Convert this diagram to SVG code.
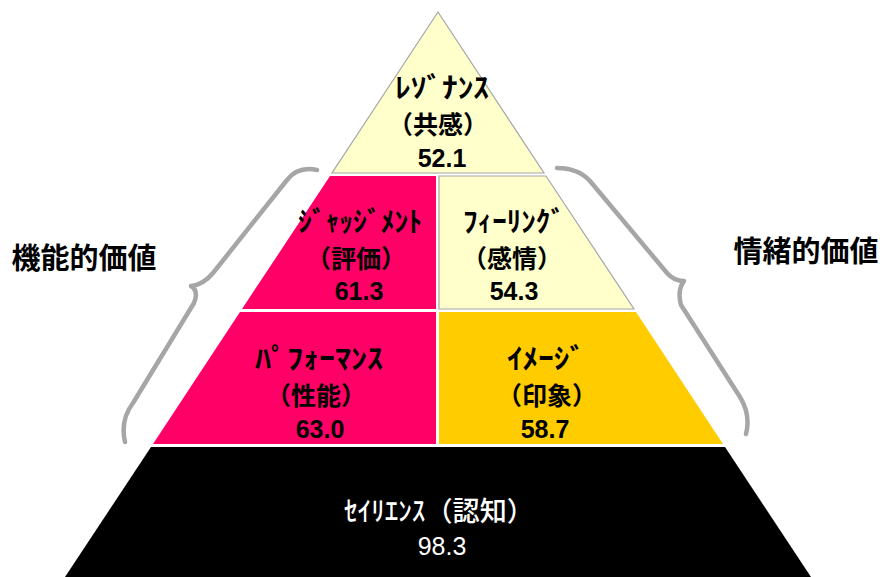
<svg xmlns="http://www.w3.org/2000/svg" width="880" height="577" viewBox="0 0 880 577">
<style>
.t{font-family:"Noto Sans CJK JP","Noto Sans",sans-serif;font-weight:bold;fill:#000;text-anchor:middle}
.kana{font-size:28px}
.k{font-size:25px}
.n{font-family:"Liberation Sans",Arial,sans-serif;font-size:25px;font-weight:bold;fill:#000;text-anchor:middle}
.w{fill:#fff}
.side{font-size:29px}
.brace{fill:none;stroke:#A6A6A6;stroke-width:4.5;stroke-linecap:round;stroke-linejoin:round}
.cream{fill:#FFFFCC;stroke:#A6A6A6;stroke-width:1.2}
</style>
<rect width="880" height="577" fill="#fff"/>
<g id="resonance">
<polygon class="cream" points="438,12 544,173 332,173"/>
<text class="t kana" x="442" y="98" textLength="94" lengthAdjust="spacingAndGlyphs">ﾚｿﾞﾅﾝｽ</text>
<text class="t k" x="438" y="134">（共感）</text>
<text class="t n" x="442" y="167">52.1</text>
</g>
<g id="judgement">
<polygon fill="#FF0066" points="330,176 436,176 436,309 242,309"/>
<text class="t kana" x="360" y="232" textLength="124" lengthAdjust="spacingAndGlyphs">ｼﾞｬｯｼﾞﾒﾝﾄ</text>
<text class="t k" x="356" y="268">（評価）</text>
<text class="t n" x="359" y="300">61.3</text>
</g>
<g id="feeling">
<polygon class="cream" points="439,176 546,176 634,309 439,309"/>
<text class="t kana" x="514" y="232" textLength="102" lengthAdjust="spacingAndGlyphs">ﾌｨｰﾘﾝｸﾞ</text>
<text class="t k" x="512" y="268">（感情）</text>
<text class="t n" x="514" y="300">54.3</text>
</g>
<g id="performance">
<polygon fill="#FF0066" points="240,312 436,312 436,444 153,444"/>
<text class="t kana" x="319" y="369" textLength="128" lengthAdjust="spacingAndGlyphs">ﾊﾟﾌｫｰﾏﾝｽ</text>
<text class="t k" x="316" y="405">（性能）</text>
<text class="t n" x="320" y="438">63.0</text>
</g>
<g id="image">
<polygon fill="#FFCC00" points="439,312 636,312 723,444 439,444"/>
<text class="t kana" x="546" y="369" textLength="78" lengthAdjust="spacingAndGlyphs">ｲﾒｰｼﾞ</text>
<text class="t k" x="547" y="405">（印象）</text>
<text class="t n" x="545" y="438">58.7</text>
</g>
<g id="salience">
<polygon fill="#000" points="151,447 725,447 811,577 65,577"/>
<text class="t w" x="439" y="521" textLength="190" lengthAdjust="spacingAndGlyphs" style="font-size:27px;font-weight:500">ｾｲﾘｴﾝｽ（認知）</text>
<text class="n w" x="442" y="555" style="font-weight:normal">98.3</text>
</g>
<g id="functional">
<text class="t side" x="84" y="269">機能的価値</text>
</g>
<g id="emotional">
<text class="t side" x="806" y="262">情緒的価値</text>
</g>
<g id="connectors">
<path class="brace" d="M317,170 Q298,166 287,180 L213,273 Q203,285 191,286 Q199,291 194,303 L133,403 Q120,420 125,442"/>
<path class="brace" d="M557,168 Q578,168 590,181 L667,273 Q674,281 684,281 Q677,290 681,305 L740,397 Q751,415 746,434"/>
</g>
</svg>
